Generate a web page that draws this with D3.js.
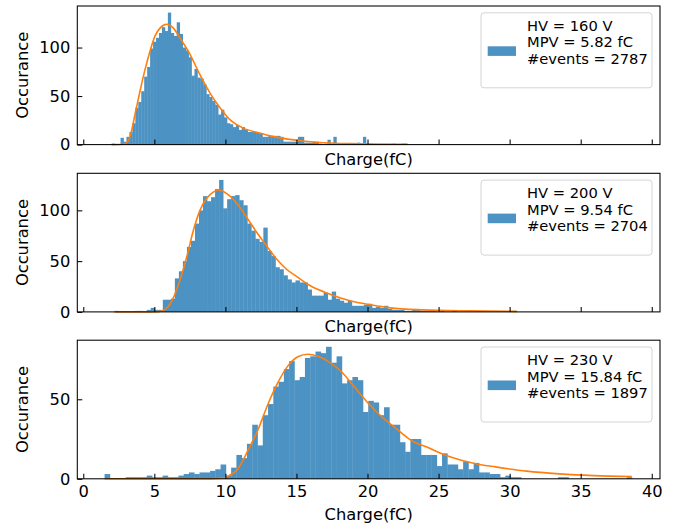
<!DOCTYPE html>
<html><head><meta charset="utf-8">
<script src="https://cdn.jsdelivr.net/npm/d3@7"></script>
<style>body{margin:0;background:#fff} svg text{font-family:"DejaVu Sans",sans-serif;fill:#000}</style>
</head><body><svg id="chart" width="674" height="527"></svg>
<script>
// ---------------- data ----------------
const chargeTicks = [0, 5, 10, 15, 20, 25, 30, 35, 40];
const hvValues = [160, 200, 230];
const mpvValues = [5.82, 9.54, 15.84];
const eventCounts = [2787, 2704, 1897];

// histogram ranges (min,max of charge) and counts, 100 bins each
const range160 = [2.0, 22.8];
const counts160 = [1,0,0,7,3,8,13,22,38,44, 55,70,80,99,106,110,115,121,117,136,
  115,112,126,114,100,97,90,71,78,69, 68,62,52,49,45,41,31,36,28,22,
  21,18,20,15,18,15,13,13,13,12, 11,8,8,9,9,9,9,8,3,3,
  3,3,3,8,8,2,2,2,3,3, 1,0,1,5,1,8,1,0,1,1,
  0,0,0,2,0,8,0,1,0,0, 0,0,0,0,0,1,0,0,1,1];
const range200 = [2.2, 30.5];
const counts200 = [1,0,0,0,0,1,1,0,2,4, 2,2,12,12,13,33,40,50,64,70,
  87,100,114,109,113,121,130,102,111,114, 115,110,105,87,80,72,69,83,60,55,
  44,42,36,32,29,31,29,29,22,16, 16,16,19,12,20,13,11,9,11,6,
  6,6,7,8,4,5,4,6,3,2, 2,2,1,1,2,2,1,1,1,1,
  0,1,0,0,1,0,0,0,0,0, 1,0,0,0,0,0,0,0,0,1];
const range230 = [1.5, 38.6];
const counts230 = [3,0,0,0,1,1,1,1,2,1, 1,2,1,1,2,3,4,3,4,4,
  5,6,9,2,7,15,13,22,34,21, 40,47,58,61,69,74,62,64,76,77,
  80,79,83,73,77,60,62,64,62,42, 49,48,40,45,34,34,23,17,25,25,
  15,15,15,8,16,9,9,6,11,6, 10,4,4,3,3,1,2,1,1,0,
  0,0,0,0,0,0,1,1,0,0, 0,0,0,0,0,0,0,0,0,1];

// fitted curves
const fitX160 = [2.0, 2.6, 3.0, 3.29, 3.64, 3.99, 4.34, 4.69, 5.05, 5.4, 5.87, 6.34, 6.8, 7.51, 8.21, 8.92, 9.62, 10.3, 11.26, 12.4, 13.14, 15.0, 16.4, 18.8, 22.8];
const fitY160 = [0, 0.1, 1.5, 8, 31, 55, 77, 96, 112, 120, 124, 120, 110, 93, 72, 53, 38, 26, 17, 12, 9, 4.5, 2.5, 1, 0.3];
const fitX200 = [2.2, 4.0, 5.3, 5.7, 6.1, 6.8, 7.28, 7.74, 8.21, 8.68, 9.15, 9.5, 10.1, 10.8, 11.5, 12.2, 12.9, 13.6, 14.3, 15.1, 15.95, 17.36, 18.77, 20.2, 21.6, 23.9, 27.2, 30.5];
const fitY200 = [0, 0, 0.3, 2, 7.6, 31, 54, 80, 100, 112, 118, 120, 116.5, 107, 93, 78.5, 65, 52, 42, 34, 26, 17.5, 11, 7, 4, 2, 1, 0.5];
const fitX230 = [1.5, 5.0, 9.0, 9.74, 10.2, 10.9, 11.6, 12.3, 13.0, 13.7, 14.4, 15.1, 15.8, 16.5, 17.2, 18.2, 19.1, 20.1, 21.0, 21.9, 23.1, 24.3, 25.5, 26.6, 27.8, 29.0, 31.2, 33.5, 35.9, 38.6];
const fitY230 = [0, 0, 0, 0.3, 1.7, 6.5, 18, 31, 47, 60.6, 71, 76.7, 78.3, 77, 74, 67, 57.5, 47, 39, 32.5, 24, 19.5, 14.8, 11.7, 9.2, 7.5, 4.8, 3.1, 2.0, 1.4];

const yTicks160 = [0, 50, 100];
const yTicks200 = [0, 50, 100];
const yTicks230 = [0, 50];

const xLabel = "Charge(fC)";
const yLabel = "Occurance";

// ---------------- layout ----------------
const svg = d3.select("#chart");
const L = 77.3, R = 660, PH = 138.6;
const tops = [6, 173.3, 340.2];
const barColor = "#4c92c3", fitColor = "#ff7f0e";
const fs = 16.3;

const x = d3.scaleLinear().domain([-0.42, 40.58]).range([L, R]);

const panels = [
  {range: range160, counts: counts160, fx: fitX160, fy: fitY160, yt: yTicks160},
  {range: range200, counts: counts200, fx: fitX200, fy: fitY200, yt: yTicks200},
  {range: range230, counts: counts230, fx: fitX230, fy: fitY230, yt: yTicks230}
];

panels.forEach((p, k) => {
  const top = tops[k], bot = top + PH;
  const y = d3.scaleLinear().domain([0, d3.max(p.counts) * 1.05]).range([bot, top]);
  const g = svg.append("g");
  const n = p.counts.length, w = (p.range[1] - p.range[0]) / n;
  const bins = p.counts.map((c, i) => ({c, x0: p.range[0] + i * w, x1: p.range[0] + (i + 1) * w})).filter(d => d.c > 0);
  g.selectAll("rect.bar").data(bins).enter().append("rect")
    .attr("class", "bar")
    .attr("x", d => x(d.x0))
    .attr("width", d => x(d.x1) - x(d.x0) + 0.35)
    .attr("y", d => y(d.c))
    .attr("height", d => y(0) - y(d.c))
    .attr("fill", barColor);

  const line = d3.line().x(d => x(d[0])).y(d => y(d[1])).curve(d3.curveMonotoneX);
  g.append("path").datum(p.fx.map((v, i) => [v, p.fy[i]]))
    .attr("d", line).attr("fill", "none").attr("stroke", fitColor).attr("stroke-width", 1.6);

  // x axis
  const ax = d3.axisBottom(x).tickValues(chargeTicks).tickSizeInner(-5).tickSizeOuter(0).tickPadding(7.0);
  if (k < 2) ax.tickFormat("");
  const gx = g.append("g").attr("transform", `translate(0,${bot})`).call(ax);
  gx.select(".domain").remove();
  gx.selectAll("line").attr("stroke", "#000").attr("stroke-width", 1.05);
  gx.selectAll("text").attr("font-size", fs).attr("font-family", "DejaVu Sans");

  const ay = d3.axisLeft(y).tickValues(p.yt).tickSizeInner(-5).tickSizeOuter(0).tickPadding(7.0);
  const gy = g.append("g").attr("transform", `translate(${L},0)`).call(ay);
  gy.select(".domain").remove();
  gy.selectAll("line").attr("stroke", "#000").attr("stroke-width", 1.05);
  gy.selectAll("text").attr("font-size", fs).attr("font-family", "DejaVu Sans");

  g.append("rect").attr("x", L).attr("y", top).attr("width", R - L).attr("height", PH)
    .attr("fill", "none").attr("stroke", "#000").attr("stroke-width", 1.05);

  // axis labels
  g.append("text").attr("x", (L + R) / 2).attr("y", k < 2 ? bot + 20.5 : bot + 41.5)
    .attr("text-anchor", "middle").attr("font-size", fs).text(xLabel);
  g.append("text").attr("transform", `translate(27.5,${top + PH / 2}) rotate(-90)`)
    .attr("text-anchor", "middle").attr("font-size", fs).text(yLabel);

  // legend
  const lg = g.append("g").attr("transform", `translate(481,${top + 6.8})`);
  lg.append("rect").attr("width", 171).attr("height", 75).attr("rx", 3)
    .attr("fill", "#fff").attr("fill-opacity", 0.8).attr("stroke", "#d4d4d4").attr("stroke-width", 1);
  lg.append("rect").attr("x", 6.7).attr("y", 33.5).attr("width", 28.3).attr("height", 9.6).attr("fill", barColor);
  const lines = [`HV = ${hvValues[k]} V`, `MPV = ${mpvValues[k].toFixed(2)} fC`, `#events = ${eventCounts[k]}`];
  lg.selectAll("text").data(lines).enter().append("text")
    .attr("x", 46).attr("y", (d, i) => 18 + i * 16.7)
    .attr("font-size", 14.7).text(d => d);
});
</script>
</body></html>
